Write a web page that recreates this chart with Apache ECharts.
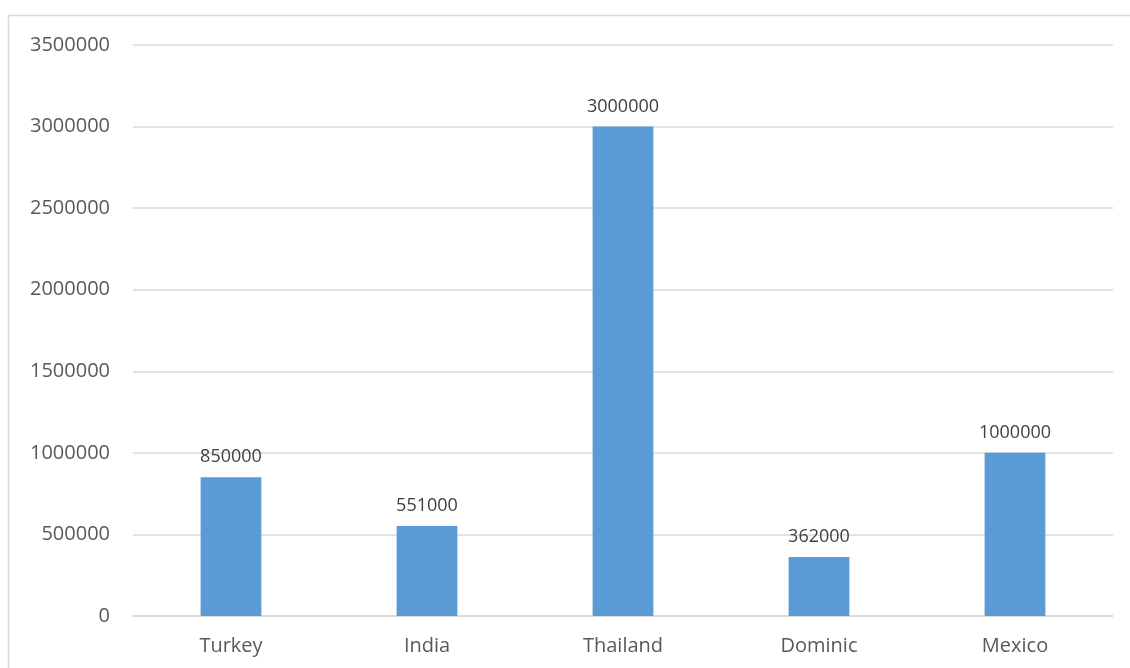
<!DOCTYPE html>
<html>
<head>
<meta charset="utf-8">
<script src="https://cdn.jsdelivr.net/npm/echarts@6/dist/echarts.min.js"></script>
<style>
  html, body { margin: 0; padding: 0; background: #fff; }
  #chart { width: 1130px; height: 668px; }
</style>
</head>
<body>
<div id="chart"></div>
<script>
// Countries and their values
const countries = ['Turkey', 'India', 'Thailand', 'Dominic', 'Mexico'];
const values = [850000, 551000, 3000000, 362000, 1000000];

// Value axis range
const yMin = 0;
const yMax = 3500000;
const yStep = 500000;

const fontFamily = '"Open Sans", "Noto Sans", sans-serif';
const textColor = '#595959';
const gridColor = '#D9D9D9';

const chart = echarts.init(document.getElementById('chart'), null, { renderer: 'canvas' });

chart.setOption({
  animation: false,
  backgroundColor: '#ffffff',
  graphic: [{
    type: 'rect',
    shape: { x: 8.5, y: 15.5, width: 1200, height: 700 },
    style: { fill: 'none', stroke: gridColor, lineWidth: 1.5 },
    silent: true,
    z: -1
  }],
  grid: { left: 133, right: 17, top: 45, bottom: 52, containLabel: false },
  xAxis: {
    type: 'category',
    data: countries,
    axisLine: { show: true, lineStyle: { color: gridColor, width: 1.5 } },
    axisTick: { show: false },
    axisLabel: { color: textColor, fontFamily, fontSize: 20, margin: 20 }
  },
  yAxis: {
    type: 'value',
    min: yMin,
    max: yMax,
    interval: yStep,
    axisLine: { show: false },
    axisTick: { show: false },
    splitLine: { lineStyle: { color: gridColor, width: 1.5 } },
    axisLabel: {
      color: textColor,
      fontFamily,
      fontSize: 20,
      margin: 23,
      formatter: (v) => String(v)
    }
  },
  series: [{
    type: 'bar',
    data: values,
    barWidth: '31%',
    itemStyle: { color: '#5B9BD5' },
    label: {
      show: true,
      position: 'top',
      distance: 11,
      color: '#404040',
      fontFamily,
      fontSize: 18
    }
  }]
});
</script>
</body>
</html>
